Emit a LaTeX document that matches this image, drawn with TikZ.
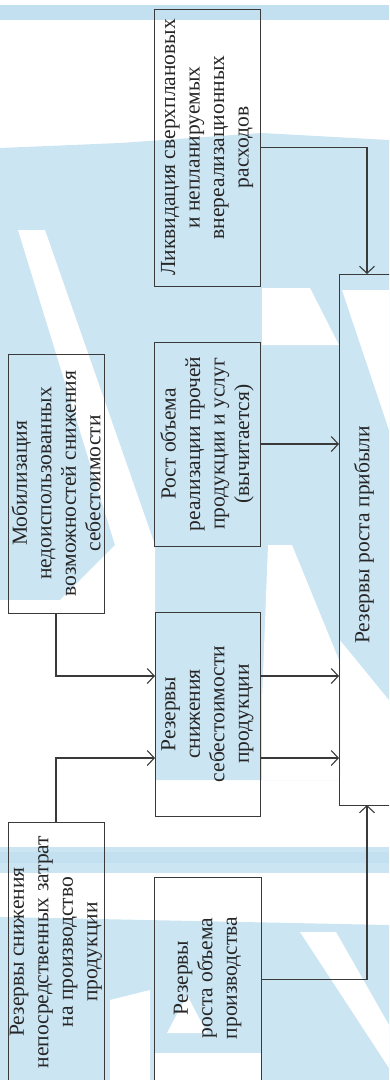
\documentclass[tikz,border=0pt]{standalone}
\usepackage{fontspec}
\setmainfont{Liberation Serif}
\usetikzlibrary{arrows.meta}
\definecolor{ln}{HTML}{3A3A3A}
\definecolor{wm}{HTML}{CBE5F3}
\definecolor{wmd}{HTML}{C2E0F0}
\tikzset{
  box/.style={draw=ln, line width=1pt, inner sep=0pt, outer sep=0pt},
  txt/.style={rotate=90, align=center, inner sep=0pt, font=\fontsize{21.5}{24.5}\selectfont, text=black!85},
  arr/.style={draw=ln, line width=1.1pt, -{Straight Barb[length=7pt,width=15pt,line width=1.1pt]}},
  wmfill/.style={fill=wm, draw=none},
  wmclear/.style={fill=white, draw=none}
}
\begin{document}
\begin{tikzpicture}[x=1pt,y=-1pt]
\useasboundingbox (0,0) rectangle (389,1080);
\clip (0,0) rectangle (389,1080);
% ---- watermark (background) ----
\fill[wmd] (0,5) rectangle (389,20);
\fill[wmfill] (0,148) -- (120,143) -- (262,133) -- (389,140) -- (389,700) -- (340,640) -- (340,780) -- (0,780) -- cycle;
\fill[wmclear] (18,230) -- (45,230) -- (155,545) -- (155,790) -- (0,790) -- (0,600) -- (60,600) -- (115,545) -- cycle;
\fill[wmclear] (262,288) -- (310,288) -- (339,345) -- (262,345) -- cycle;
\fill[wmclear] (342,290) -- (389,290) -- (389,430) -- cycle;
\fill[wmclear] (268,545) -- (292,545) -- (339,660) -- (339,780) -- (262,780) -- (262,700) -- cycle;
\fill[wmfill] (0,847) rectangle (389,873);
\fill[wmd] (0,852) rectangle (389,863);
\fill[wmfill] (0,917) -- (389,925) -- (389,1080) -- (0,1080) -- cycle;
\fill[wmclear] (300,932) -- (336,932) -- (389,1025) -- (389,1068) -- cycle;
\fill[wmclear] (167,1033) -- (187,995) -- (207,1033) -- cycle;
\fill[wmclear] (154,1053) rectangle (261,1080);
\fill[wmclear] (110,1000) -- (150,990) -- (150,1080) -- (110,1080) -- cycle;
% ---- boxes ----
\node[box, minimum width=106pt, minimum height=277pt] (L) at (207,147.5) {};
\node[box, minimum width=106pt, minimum height=204pt] (R) at (207,444) {};
\node[box, minimum width=96pt, minimum height=259pt] (M) at (56,483.5) {};
\node[box, minimum width=105pt, minimum height=204pt] (S) at (207.5,714) {};
\node[box, minimum width=96pt, minimum height=262pt] (N) at (56,953) {};
\node[box, minimum width=107pt, minimum height=205pt] (V) at (207.5,979.5) {};
\node[box, minimum width=56pt, minimum height=531pt] (P) at (367,539.5) {};
% ---- texts ----
\node[txt] (Lt) at (L.center) {Ликвидация сверхплановых\\и непланируемых\\внереализационных\\расходов};
\node[txt] (Rt) at (R.center) {Рост объема\\реализации прочей\\продукции и услуг\\(вычитается)};
\node[txt] (Mt) at (M.center) {Мобилизация\\недоиспользованных\\возможностей снижения\\себестоимости};
\node[txt] (St) at (S.center) {Резервы\\снижения\\себестоимости\\продукции};
\node[txt] (Nt) at (56,952) {Резервы снижения\\непосредственных затрат\\на производство\\продукции};
\node[txt] (Vt) at (207.5,978) {Резервы\\роста объема\\производства};
\node[txt] (Pt) at (364,535) {Резервы роста прибыли};
% ---- connectors ----
\coordinate (yA) at (0,676);
\coordinate (yB) at (0,758);
\draw[arr] (L.east) -| (P.north);
\draw[arr] (R.east) -- (R.east -| P.west);
\draw[arr] (S.east |- yA) -- (P.west |- yA);
\draw[arr] (S.east |- yB) -- (P.west |- yB);
\draw[arr] (M.south) |- (S.west |- yA);
\draw[arr] (N.north) |- (S.west |- yB);
\draw[arr] (V.east) -| (P.south);
\end{tikzpicture}
\end{document}
